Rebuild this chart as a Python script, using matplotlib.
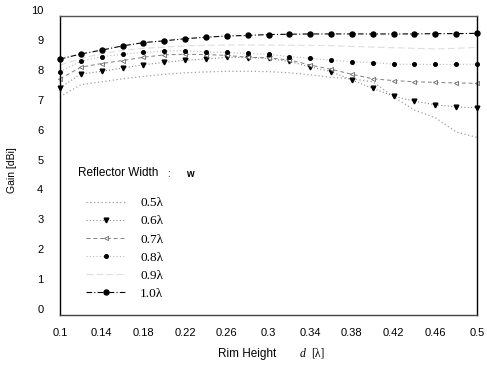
import matplotlib
matplotlib.use("Agg")
import matplotlib.pyplot as plt
import matplotlib.transforms as mtransforms
import numpy as np

# ---- data ----
rim_height = [0.10, 0.12, 0.14, 0.16, 0.18, 0.20, 0.22, 0.24, 0.26, 0.28, 0.30,
              0.32, 0.34, 0.36, 0.38, 0.40, 0.42, 0.44, 0.46, 0.48, 0.50]

gain_05 = [7.30, 7.70, 7.80, 7.90, 7.98, 8.05, 8.10, 8.13, 8.15, 8.15, 8.14,
           8.10, 8.03, 7.95, 7.90, 7.80, 7.30, 6.85, 6.60, 6.12, 5.94]
gain_06 = [7.60, 8.06, 8.15, 8.26, 8.37, 8.45, 8.52, 8.56, 8.62, 8.61, 8.58,
           8.48, 8.30, 8.14, 7.86, 7.58, 7.32, 7.15, 7.03, 6.96, 6.93]
gain_07 = [7.90, 8.29, 8.41, 8.51, 8.62, 8.70, 8.72, 8.71, 8.68, 8.62, 8.60,
           8.53, 8.36, 8.22, 8.05, 7.90, 7.84, 7.80, 7.78, 7.76, 7.75]
gain_08 = [8.14, 8.49, 8.64, 8.72, 8.78, 8.83, 8.84, 8.80, 8.78, 8.75, 8.72,
           8.64, 8.59, 8.52, 8.47, 8.44, 8.39, 8.38, 8.38, 8.38, 8.39]
gain_09 = [8.36, 8.58, 8.74, 8.85, 8.92, 8.96, 9.00, 9.02, 9.03, 9.03, 9.03,
           9.02, 9.02, 9.01, 8.98, 8.96, 8.94, 8.92, 8.90, 8.92, 8.95]
gain_10 = [8.56, 8.73, 8.86, 9.00, 9.11, 9.17, 9.24, 9.29, 9.33, 9.35, 9.38,
           9.39, 9.40, 9.40, 9.40, 9.40, 9.40, 9.40, 9.41, 9.41, 9.42]

series_labels = ["0.5\u03bb", "0.6\u03bb", "0.7\u03bb", "0.8\u03bb", "0.9\u03bb", "1.0\u03bb"]
x_ticks = [0.1, 0.14, 0.18, 0.22, 0.26, 0.3, 0.34, 0.38, 0.42, 0.46, 0.5]
x_tick_labels = ["0.1", "0.14", "0.18", "0.22", "0.26", "0.3", "0.34", "0.38", "0.42", "0.46", "0.5"]
y_ticks = [0, 1, 2, 3, 4, 5, 6, 7, 8, 9, 10]

# ---- figure ----
W, H = 487, 365
fig = plt.figure(figsize=(W / 100, H / 100), dpi=100)
ax = fig.add_axes([60 / W, 1 - 315 / H, (477 - 60) / W, (315 - 16) / H])

sans = ["Liberation Sans", "DejaVu Sans"]
serif = ["Liberation Serif", "DejaVu Serif"]

styles = [
    dict(color="#a0a0a0", linestyle=(0, (1, 2)), linewidth=0.9),
    dict(color="#8a8a8a", linestyle=(0, (1, 2)), linewidth=0.8, marker="v",
         markersize=3.4, markerfacecolor="black", markeredgecolor="black"),
    dict(color="#808080", linestyle=(0, (4, 3)), linewidth=0.7, marker="<",
         markersize=3.0, markerfacecolor="white", markeredgecolor="#666666",
         markeredgewidth=0.6),
    dict(color="#b8b8b8", linestyle=(0, (1, 2)), linewidth=0.8, marker="o",
         markersize=2.6, markerfacecolor="black", markeredgecolor="black"),
    dict(color="#dedede", linestyle=(0, (6, 3)), linewidth=0.8),
    dict(color="black", linestyle=(0, (5, 2, 1, 2)), linewidth=0.8, marker="o",
         markersize=3.6, markerfacecolor="black", markeredgecolor="black"),
]

all_series = [gain_05, gain_06, gain_07, gain_08, gain_09, gain_10]
handles = []
for vals, st, lab in zip(all_series, styles, series_labels):
    h, = ax.plot(rim_height, vals, label=lab, clip_on=False, **st)
    handles.append(h)

ax.set_xlim(0.1, 0.5)
ax.set_ylim(0, 10)
ax.set_xticks(x_ticks)
ax.set_xticklabels(x_tick_labels, fontsize=8, family=sans)
ax.set_yticks(y_ticks)
ax.set_yticklabels([str(v) for v in y_ticks], fontsize=8, family=sans)
ax.tick_params(axis="both", length=0)
ax.tick_params(axis="x", pad=9)
ax.tick_params(axis="y", pad=12)

# scanned original: y tick labels sit slightly above their positions
offset = mtransforms.ScaledTranslation(0, 6 / 100, fig.dpi_scale_trans)
for lbl in ax.get_yticklabels():
    lbl.set_transform(lbl.get_transform() + offset)

for s in ax.spines.values():
    s.set_color("black")
    s.set_linewidth(1.0)
ax.spines["top"].set_color("#555555")
ax.spines["bottom"].set_color("#444444")

# axis labels
fig.text(12 / W, 1 - 170 / H, "Gain [dBi]", rotation=90, ha="center", va="center",
         fontsize=7.5, family=sans)
fig.text(247 / W, 1 - 354 / H, "Rim Height", ha="center", va="center",
         fontsize=8.5, family=sans)
fig.text(303 / W, 1 - 354 / H, "d", ha="center", va="center", fontsize=8.5,
         family=serif, style="italic")
fig.text(318 / W, 1 - 354 / H, "[\u03bb]", ha="center", va="center", fontsize=8.5,
         family=serif)

# legend
fig.text(78 / W, 1 - 173 / H, "Reflector Width", ha="left", va="center",
         fontsize=8.5, family=sans)
fig.text(167 / W, 1 - 174 / H, ":", ha="left", va="center",
         fontsize=7, family=sans)
fig.text(186 / W, 1 - 174 / H, "w", ha="left", va="center",
         fontsize=7, family=sans, weight="bold")

leg = fig.legend(handles=handles, labels=series_labels, loc="upper left",
                 bbox_to_anchor=(86 / W, 1 - 197 / H), frameon=False,
                 prop={"family": serif, "size": 9.5}, handlelength=3.0,
                 handletextpad=1.1, labelspacing=0.45, borderpad=0,
                 borderaxespad=0, numpoints=1)

fig.savefig("out.png", dpi=100)
